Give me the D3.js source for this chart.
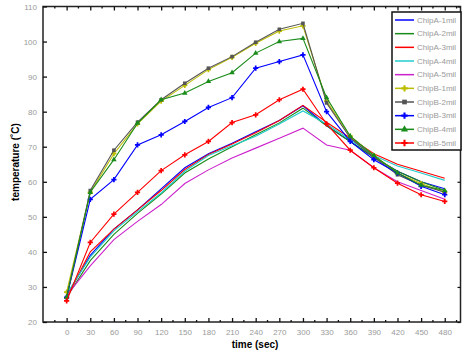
<!DOCTYPE html>
<html>
<head>
<meta charset="utf-8">
<script src="https://cdn.jsdelivr.net/npm/d3@7"></script>
<style>
  body { margin: 0; background: #fff; }
  text { font-family: "Liberation Sans", Arial, sans-serif; }
</style>
</head>
<body>
<div id="container"></div>
<script>
// time (sec), one reading every 30 s
const times = [0, 30, 60, 90, 120, 150, 180, 210, 240, 270, 300, 330, 360, 390, 420, 450, 480];
const xTicks = [0, 30, 60, 90, 120, 150, 180, 210, 240, 270, 300, 330, 360, 390, 420, 450, 480];
const yTicks = [20, 30, 40, 50, 60, 70, 80, 90, 100, 110];

const seriesNames = ['ChipA-1mil', 'ChipA-2mil', 'ChipA-3mil', 'ChipA-4mil', 'ChipA-5mil',
  'ChipB-1mil', 'ChipB-2mil', 'ChipB-3mil', 'ChipB-4mil', 'ChipB-5mil'];

const chipA1 = [27.5, 39, 46.5, 52, 58, 64, 68, 71, 74.3, 77.5, 81.7, 76, 71.5, 67, 63, 60, 58];
const chipA2 = [27, 37.5, 45, 51, 56.5, 62.5, 66.5, 70, 73.4, 76.8, 81, 76, 71.5, 67, 63, 60, 57.5];
const chipA3 = [27, 40, 46.5, 52, 57.5, 63.5, 67.8, 70.8, 74, 77.5, 81.8, 77, 72.5, 68, 65, 63, 61];
const chipA4 = [28, 38.5, 46, 51.5, 56.8, 63, 67.5, 70.3, 73, 76.5, 80.2, 76.5, 72, 67.5, 64.5, 62.5, 60.4];
const chipA5 = [27.5, 36, 43.5, 48.7, 53.5, 59.5, 63.4, 66.8, 69.6, 72.4, 75.3, 70.5, 69, 64, 60, 57.5, 55];
const chipB1 = [28.5, 57, 68, 76.5, 83, 87.5, 92, 95.5, 99.5, 103, 104.5, 83, 73, 67.5, 62.5, 59.5, 57];
const chipB2 = [27, 57.5, 69, 77, 83.4, 88.1, 92.4, 95.7, 99.8, 103.5, 105.2, 82.5, 72.5, 67, 62, 59, 57];
const chipB3 = [27, 55, 60.6, 70.5, 73.4, 77.2, 81.2, 84, 92.4, 94.3, 96.2, 80, 71.5, 66.3, 62.5, 58.7, 56.3];
const chipB4 = [27, 57, 66.3, 76.7, 83.4, 85.3, 88.6, 91.1, 96.7, 100, 100.9, 84, 73, 67.5, 62.5, 59, 57.5];
const chipB5 = [26, 42.7, 50.8, 57, 63.2, 67.7, 71.5, 76.9, 79.1, 83.4, 86.4, 76.5, 69, 64, 59.6, 56.3, 54.4];

const seriesValues = [chipA1, chipA2, chipA3, chipA4, chipA5, chipB1, chipB2, chipB3, chipB4, chipB5];

const colors = ['#0000ff', '#1a8c1a', '#ff0000', '#22cccc', '#cc22cc',
  '#bdbd00', '#555555', '#0000ff', '#1a8c1a', '#ff0000'];
const symbols = [null, null, null, null, null,
  d3.symbolCross, d3.symbolSquare, d3.symbolCross, d3.symbolTriangle, d3.symbolCross];

const width = 465, height = 353;
const plot = { left: 43, right: 460.5, top: 6.5, bottom: 322 };

const svg = d3.select('#container').append('svg')
  .attr('width', width)
  .attr('height', height);

const x = d3.scaleLinear().domain([-30, 500]).range([plot.left, plot.right]);
const y = d3.scaleLinear().domain([20, 110]).range([plot.bottom, plot.top]);

const tickColor = '#9a9a9a';

// frame
svg.append('rect')
  .attr('x', plot.left)
  .attr('y', plot.top)
  .attr('width', plot.right - plot.left)
  .attr('height', plot.bottom - plot.top)
  .style('fill', 'none')
  .style('stroke', '#222')
  .style('stroke-width', 1.5);

// bottom axis, ticks point inward
const minorX = d3.range(-15, 500, 30);
const xAxis = d3.axisBottom(x).tickValues(xTicks).tickSize(-4).tickSizeOuter(0).tickPadding(7);
const gx = svg.append('g')
  .attr('transform', 'translate(0,' + plot.bottom + ')')
  .call(xAxis);
gx.select('.domain').remove();
gx.selectAll('line').style('stroke', '#111').style('stroke-width', 1.3);
gx.selectAll('text').style('fill', tickColor).style('font-size', '8px');
gx.selectAll('.minor').data(minorX).enter().append('line')
  .attr('class', 'minor')
  .attr('x1', d => x(d)).attr('x2', d => x(d))
  .attr('y1', 0).attr('y2', -2)
  .style('stroke', '#111').style('stroke-width', 1.3);

// top axis ticks
const gxt = svg.append('g')
  .attr('transform', 'translate(0,' + plot.top + ')')
  .call(d3.axisTop(x).tickValues(xTicks).tickSize(-4).tickSizeOuter(0).tickFormat(''));
gxt.select('.domain').remove();
gxt.selectAll('line').style('stroke', '#111').style('stroke-width', 1.3);
gxt.selectAll('.minor').data(minorX).enter().append('line')
  .attr('class', 'minor')
  .attr('x1', d => x(d)).attr('x2', d => x(d))
  .attr('y1', 0).attr('y2', 2)
  .style('stroke', '#111').style('stroke-width', 1.3);

// left axis
const gy = svg.append('g')
  .attr('transform', 'translate(' + plot.left + ',0)')
  .call(d3.axisLeft(y).tickValues(yTicks).tickSize(-4).tickSizeOuter(0).tickPadding(6));
gy.select('.domain').remove();
gy.selectAll('line').style('stroke', '#111').style('stroke-width', 1.3);
gy.selectAll('text').style('fill', tickColor).style('font-size', '8px');

// right axis ticks
const gyr = svg.append('g')
  .attr('transform', 'translate(' + plot.right + ',0)')
  .call(d3.axisRight(y).tickValues(yTicks).tickSize(-3).tickSizeOuter(0).tickFormat(''));
gyr.select('.domain').remove();
gyr.selectAll('line').style('stroke', '#111').style('stroke-width', 1.2);

// axis titles
svg.append('text')
  .attr('x', 255)
  .attr('y', 348)
  .attr('text-anchor', 'middle')
  .style('font-weight', 'bold')
  .style('font-size', '10px')
  .text('time (sec)');

svg.append('text')
  .attr('transform', 'translate(19,162) rotate(-90)')
  .attr('text-anchor', 'middle')
  .style('font-weight', 'bold')
  .style('font-size', '10px')
  .text('temperature (\u02DAC)');

// series
const line = d3.line()
  .x((d, i) => x(times[i]))
  .y(d => y(d));

const series = svg.selectAll('.series')
  .data(seriesValues)
  .enter().append('g')
  .attr('class', 'series');

series.append('path')
  .attr('d', d => line(d))
  .style('fill', 'none')
  .style('stroke', (d, i) => colors[i])
  .style('stroke-width', 1.1);

series.each(function (vals, k) {
  if (!symbols[k]) return;
  d3.select(this).selectAll('.pt')
    .data(vals)
    .enter().append('path')
    .attr('class', 'pt')
    .attr('transform', (d, i) => 'translate(' + x(times[i]) + ',' + y(d) + ')')
    .attr('d', d3.symbol().type(symbols[k]).size(symbols[k] === d3.symbolCross ? 15 : 13))
    .style('fill', colors[k]);
});

// legend
const legend = svg.append('g').attr('class', 'legend');
legend.append('rect')
  .attr('x', 392)
  .attr('y', 12)
  .attr('width', 69)
  .attr('height', 138)
  .style('fill', '#fff')
  .style('stroke', '#111')
  .style('stroke-width', 1.5);

const ly = d3.scalePoint().domain(seriesNames).range([20, 143]);

const item = legend.selectAll('.item')
  .data(seriesNames)
  .enter().append('g')
  .attr('class', 'item')
  .attr('transform', d => 'translate(0,' + ly(d) + ')');

item.append('line')
  .attr('x1', 395).attr('x2', 414)
  .attr('y1', 0).attr('y2', 0)
  .style('stroke', (d, i) => colors[i])
  .style('stroke-width', 1.5);

item.filter((d, i) => symbols[i] !== null)
  .append('path')
  .attr('transform', 'translate(404.5,0)')
  .attr('d', d => d3.symbol().type(symbols[seriesNames.indexOf(d)]).size(22)())
  .style('fill', d => colors[seriesNames.indexOf(d)]);

item.append('text')
  .attr('x', 417)
  .attr('y', 0)
  .attr('dy', '0.35em')
  .style('fill', tickColor)
  .style('font-size', '8px')
  .text(d => d);
</script>
</body>
</html>
